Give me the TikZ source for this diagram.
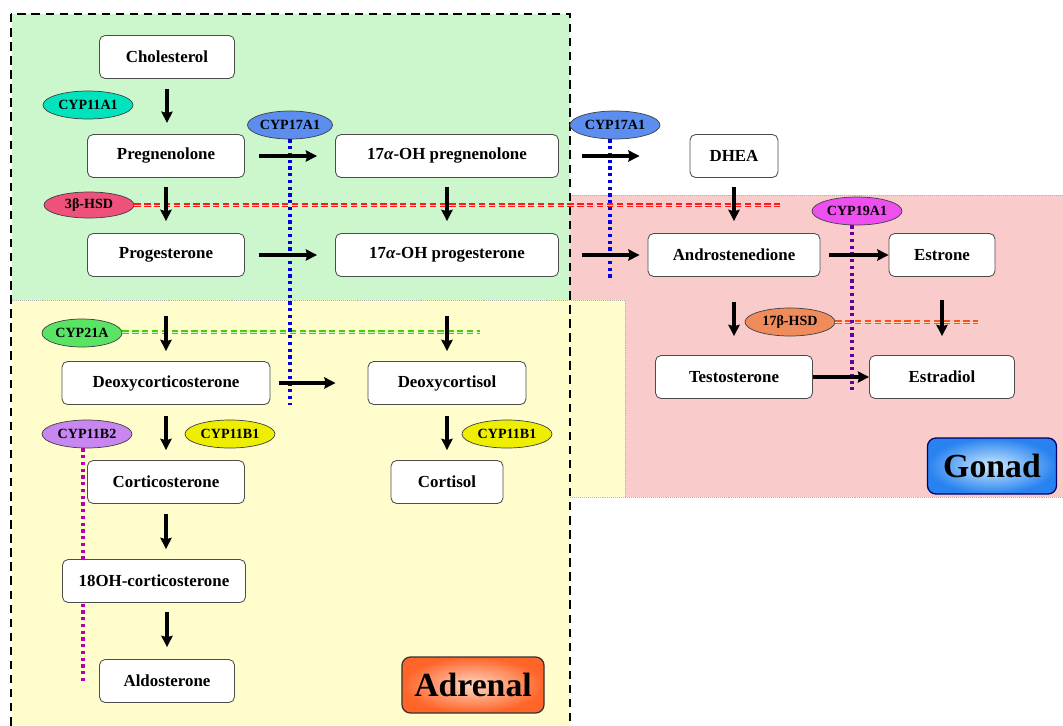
\documentclass[tikz,border=0pt]{standalone}
\usepackage{fontspec}
\setmainfont{Liberation Serif}
\usetikzlibrary{shapes.geometric,arrows.meta}
\definecolor{adrgreen}{RGB}{204,247,204}
\definecolor{adryellow}{RGB}{255,253,204}
\definecolor{gonpink}{RGB}{249,203,203}
\definecolor{cteal}{RGB}{0,228,190}
\definecolor{cblue}{RGB}{92,142,240}
\definecolor{cpink}{RGB}{238,82,122}
\definecolor{cmagenta}{RGB}{238,80,240}
\definecolor{cgreen}{RGB}{90,228,100}
\definecolor{corange}{RGB}{240,140,92}
\definecolor{cviolet}{RGB}{200,134,240}
\definecolor{cyellow}{RGB}{238,238,0}
\definecolor{gonout}{RGB}{40,130,240}
\definecolor{gonin}{RGB}{205,236,255}
\definecolor{adrout}{RGB}{255,100,40}
\definecolor{adrin}{RGB}{255,215,195}
\tikzstyle{steroid}=[draw=black!70,fill=white,rounded corners=4pt,line width=0.6pt,minimum height=1.075cm,inner sep=2pt,font=\fontsize{12}{14}\selectfont\bfseries]
\tikzstyle{enzyme}=[ellipse,draw=black!75,line width=0.5pt,minimum width=2.25cm,minimum height=0.7cm,inner sep=0pt,font=\fontsize{10}{12}\selectfont\bfseries]
\tikzstyle{conv}=[-{Stealth[length=8pt,width=8pt,inset=1pt]},line width=2.6pt]
\tikzstyle{dotblock}=[line width=2.5pt,dash pattern=on 2.4pt off 2.4pt]
\tikzstyle{dashblock}=[line width=0.9pt,double distance=0.7pt,dash pattern=on 4.5pt off 2.5pt]
\tikzstyle{tissue}=[rounded corners=6pt,line width=0.9pt,minimum height=1.4cm,font=\fontsize{24}{28}\selectfont\bfseries]

\begin{document}
\begin{tikzpicture}[x=0.025cm,y=-0.025cm]
\useasboundingbox (0,0) rectangle (1063,725);

\fill[gonpink] (570,195) rectangle (1063,497);
\draw[gray!60,densely dotted] (570,195) -- (1063,195) (570,497) -- (1063,497);
\fill[adryellow] (12,300) -- (625,300) -- (625,497) -- (570,497) -- (570,725) -- (12,725) -- cycle;
\draw[gray!60,densely dotted] (12,300) -- (625,300) -- (625,497);
\fill[adrgreen] (12,14) rectangle (570,300);
\draw[line width=1pt,dash pattern=on 6pt off 4pt] (11,14) rectangle (570,728);

\node[enzyme,fill=cteal] (cypa) at (88,105) {CYP11A1};
\node[enzyme,fill=cblue,minimum width=2.05cm] (cypq) at (290,125) {CYP17A1};
\node[enzyme,fill=cblue] (cypqg) at (615,125) {CYP17A1};
\node[enzyme,fill=cpink,minimum height=0.65cm] (hsdb) at (89,205) {3β-HSD};
\node[enzyme,fill=cmagenta] (cyps) at (857,211) {CYP19A1};
\node[enzyme,fill=corange] (hsdq) at (790,322) {17β-HSD};
\node[enzyme,fill=cgreen,minimum width=2cm] (cypu) at (82,333) {CYP21A};
\node[enzyme,fill=cviolet] (cypbb) at (87,434) {CYP11B2};
\node[enzyme,fill=cyellow] (cypb) at (230,434) {CYP11B1};
\node[enzyme,fill=cyellow] (cypbc) at (507,434) {CYP11B1};

\coordinate (qend) at (290,405);
\coordinate (qgend) at (610,280);
\coordinate (bend) at (780,205);
\coordinate (send) at (852,390);
\coordinate (hend) at (978,322);
\coordinate (uend) at (480,332);
\coordinate (bbend) at (83,683);

\draw[dashblock,draw=red!90,double=orange!35] (hsdb.east) -- (bend);
\draw[dashblock,draw=green!50!lime!80!black,double=green!20] (cypu.east |- uend) -- (uend);
\draw[dashblock,draw=red!55!orange!90,double=orange!25] (hsdq.east) -- (hend);
\draw[dotblock,blue!90!black] (cypq.south) -- (qend);
\draw[dotblock,blue!90!black] (cypqg.south -| qgend) -- (qgend);
\draw[dotblock,violet!80!blue] (cyps.south -| send) -- (send);
\draw[dotblock,violet!60!magenta] (cypbb.south -| bbend) -- (bbend);

\node[steroid,minimum width=3.375cm] (chol) at (167,57) {Cholesterol};
\node[steroid,minimum width=3.925cm] (preg) at (166,156) {Pregnenolone};
\node[steroid,minimum width=5.575cm] (ohpreg) at (447,156) {17\textit{α}-OH pregnenolone};
\node[steroid,minimum width=2.2cm] (dhea) at (734,156) {DHEA};
\node[steroid,minimum width=3.925cm] (prog) at (166,255) {Progesterone};
\node[steroid,minimum width=5.575cm] (ohprog) at (447,255) {17\textit{α}-OH progesterone};
\node[steroid,minimum width=4.3cm] (andro) at (734,255) {Androstenedione};
\node[steroid,minimum width=2.65cm] (estrone) at (942,255) {Estrone};
\node[steroid,minimum width=5.2cm] (doc) at (166,383) {Deoxycorticosterone};
\node[steroid,minimum width=3.95cm] (docl) at (447,383) {Deoxycortisol};
\node[steroid,minimum width=3.925cm] (testo) at (734,377) {Testosterone};
\node[steroid,minimum width=3.625cm] (estrad) at (942,377) {Estradiol};
\node[steroid,minimum width=3.925cm] (cort) at (166,482) {Corticosterone};
\node[steroid,minimum width=2.8cm] (cortisol) at (447,482) {Cortisol};
\node[steroid,minimum width=4.575cm] (ohcort) at (154,581) {18OH-corticosterone};
\node[steroid,minimum width=3.375cm] (aldo) at (167,681) {Aldosterone};

\draw[conv,shorten <=0.25cm,shorten >=0.28cm] (chol) -- (chol |- preg.north);
\draw[conv,shorten <=0.35cm,shorten >=0.45cm] (preg) -- (ohpreg);
\draw[conv,shorten <=0.575cm,shorten >=1.25cm] (ohpreg) -- (dhea);
\draw[conv,shorten <=0.225cm,shorten >=0.3cm] (preg) -- (prog);
\draw[conv,shorten <=0.225cm,shorten >=0.3cm] (ohpreg) -- (ohprog);
\draw[conv,shorten <=0.225cm,shorten >=0.3cm] (dhea) -- (andro);
\draw[conv,shorten <=0.35cm,shorten >=0.45cm] (prog) -- (ohprog);
\draw[conv,shorten <=0.575cm,shorten >=0.2cm] (ohprog) -- (andro);
\draw[conv,shorten <=0.225cm] (andro) -- (estrone);
\draw[conv,shorten <=0.975cm,shorten >=0.25cm] (prog) -- (doc);
\draw[conv,shorten <=0.975cm,shorten >=0.25cm] (ohprog) -- (docl);
\draw[conv,shorten <=0.225cm,shorten >=0.8cm] (doc) -- (docl);
\draw[conv,shorten <=0.625cm,shorten >=0.475cm] (andro) -- (testo);
\draw[conv,shorten <=0.575cm,shorten >=0.475cm] (estrone) -- (estrad);
\draw[conv] (testo) -- (estrad);
\draw[conv,shorten <=0.275cm,shorten >=0.25cm] (doc) -- (cort);
\draw[conv,shorten <=0.275cm,shorten >=0.25cm] (docl) -- (cortisol);
\draw[conv,shorten <=0.25cm,shorten >=0.25cm] (cort) -- (cort |- ohcort.north);
\draw[conv,shorten <=0.225cm,shorten >=0.3cm] (ohcort.south -| aldo) -- (aldo);

\node[tissue,draw=blue!40!black,inner color=gonin,outer color=gonout,minimum width=3.225cm] (gonad) at (992,466) {Gonad};
\node[tissue,draw=black!80,inner color=adrin,outer color=adrout,minimum width=3.55cm] (adrenal) at (473,685) {Adrenal};
\end{tikzpicture}
\end{document}
